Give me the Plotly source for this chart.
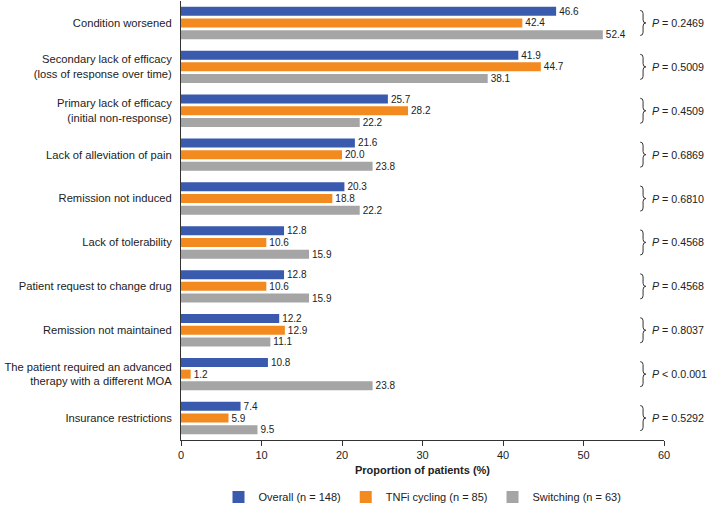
import plotly.graph_objects as go

categories = [
    "Condition worsened",
    "Secondary lack of efficacy<br>(loss of response over time)",
    "Primary lack of efficacy<br>(initial non-response)",
    "Lack of alleviation of pain",
    "Remission not induced",
    "Lack of tolerability",
    "Patient request to change drug",
    "Remission not maintained",
    "The patient required an advanced<br>therapy with a different MOA",
    "Insurance restrictions",
]
overall = [46.6, 41.9, 25.7, 21.6, 20.3, 12.8, 12.8, 12.2, 10.8, 7.4]
tnfi_cycling = [42.4, 44.7, 28.2, 20.0, 18.8, 10.6, 10.6, 12.9, 1.2, 5.9]
switching = [52.4, 38.1, 22.2, 23.8, 22.2, 15.9, 15.9, 11.1, 23.8, 9.5]
p_values = ["= 0.2469", "= 0.5009", "= 0.4509", "= 0.6869", "= 0.6810",
            "= 0.4568", "= 0.4568", "= 0.8037", "< 0.0.001", "= 0.5292"]

series = [
    ("Overall (n = 148)", overall, "#3A5BAD"),
    ("TNFi cycling (n = 85)", tnfi_cycling, "#F28A1F"),
    ("Switching (n = 63)", switching, "#A5A5A5"),
]

FONT = "Arial, Liberation Sans, sans-serif"
pos = list(range(len(categories)))

fig = go.Figure()
for name, vals, col in series:
    fig.add_trace(go.Bar(
        y=pos, x=vals, orientation="h", name=name,
        marker=dict(color=col, line=dict(width=0)),
        text=[f"{v:.1f}" for v in vals], textposition="outside",
        constraintext="none",
        textfont=dict(size=10, color="#222222", family=FONT),
        cliponaxis=False,
    ))

# braces + P values
bx, hook, half, r = 57.4, 0.35, 0.285, 0.07
for i, p in enumerate(p_values):
    yc = i
    path = (f"M {bx-hook},{yc-half} Q {bx},{yc-half} {bx},{yc-half+r} "
            f"L {bx},{yc-r} Q {bx},{yc} {bx+hook},{yc} Q {bx},{yc} {bx},{yc+r} "
            f"L {bx},{yc+half-r} Q {bx},{yc+half} {bx-hook},{yc+half}")
    fig.add_shape(type="path", path=path, xref="x", yref="y",
                  line=dict(color="#333333", width=1))
    fig.add_annotation(x=58.3, y=yc, xref="x", yref="y", xanchor="left",
                       showarrow=False, text=f"<i>P</i> {p}",
                       font=dict(size=10.7, color="#222222", family=FONT))

fig.update_layout(
    width=708, height=505,
    barmode="group", bargap=0.2, bargroupgap=0.23,
    plot_bgcolor="white", paper_bgcolor="white",
    font=dict(family=FONT, size=11, color="#222222"),
    margin=dict(l=181, r=44, t=1, b=65, autoexpand=False),
    xaxis=dict(range=[0, 60], dtick=10, showgrid=False, zeroline=False,
               showline=True, linecolor="#333333", linewidth=1,
               ticks="outside", ticklen=5, tickcolor="#333333",
               tickfont=dict(size=11),
               title=dict(text="<b>Proportion of patients (%)</b>",
                          font=dict(size=11), standoff=6)),
    yaxis=dict(range=[9.5, -0.5], tickvals=pos, ticktext=categories,
               showgrid=False, zeroline=False, showline=True,
               linecolor="#333333", linewidth=1, ticks="",
               ticklabelstandoff=6, tickfont=dict(size=11.2)),
    legend=dict(orientation="h", x=0.5, xanchor="center", y=-0.13,
                yanchor="middle", font=dict(size=11), itemwidth=30,
                traceorder="normal"),
    showlegend=True,
)

# page has a default 8px body margin; drop it so the figure fills the window
fig.write_html("out.html", config={"displayModeBar": False},
               post_script="document.body.style.margin='0';")
